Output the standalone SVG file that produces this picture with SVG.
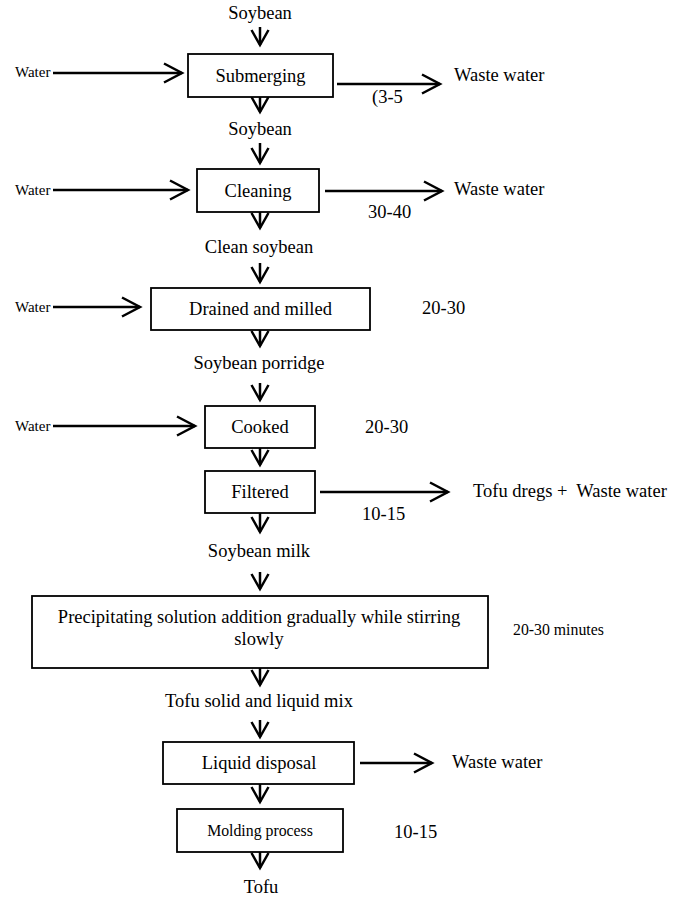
<svg xmlns="http://www.w3.org/2000/svg" width="689" height="897" viewBox="0 0 689 897">
  <style>
    text { font-family: "Liberation Serif", "Times New Roman", serif; fill: #000; }
    .t { font-size: 18.5px; }
    .c { text-anchor: middle; }
    .sm { font-size: 15px; }
    .box { fill: #fff; stroke: #000; stroke-width: 1.8; }
    .ln { fill: none; stroke: #000; stroke-width: 2.5; }
    .dn { marker-end: url(#vdown); }
    .sd { marker-end: url(#vside); }
  </style>
  <defs>
    <!-- open V arrowheads -->
    <marker id="vdown" markerUnits="userSpaceOnUse" markerWidth="30" markerHeight="30" refX="0" refY="0" orient="auto" overflow="visible">
      <path d="M-15,-8.5 L0,0 L-15,8.5" fill="none" stroke="#000" stroke-width="2.5"/>
    </marker>
    <marker id="vside" markerUnits="userSpaceOnUse" markerWidth="30" markerHeight="30" refX="0" refY="0" orient="auto" overflow="visible">
      <path d="M-18,-9.5 L0,0 L-18,9.5" fill="none" stroke="#000" stroke-width="2.5"/>
    </marker>
  </defs>
  <rect width="689" height="897" fill="#fff"/>

  <g id="connectors">
    <!-- main downward flow -->
    <line class="ln dn" x1="260" y1="27" x2="260" y2="45"/>
    <line class="ln dn" x1="260" y1="97" x2="260" y2="112"/>
    <line class="ln dn" x1="260" y1="143" x2="260" y2="163"/>
    <line class="ln dn" x1="260" y1="212" x2="260" y2="228"/>
    <line class="ln dn" x1="260" y1="263" x2="260" y2="282"/>
    <line class="ln dn" x1="260" y1="330" x2="260" y2="346"/>
    <line class="ln dn" x1="260" y1="383" x2="260" y2="400"/>
    <line class="ln dn" x1="260" y1="448" x2="260" y2="465"/>
    <line class="ln dn" x1="260" y1="513" x2="260" y2="532"/>
    <line class="ln dn" x1="260" y1="572" x2="260" y2="589"/>
    <line class="ln dn" x1="260" y1="668" x2="260" y2="685"/>
    <line class="ln dn" x1="260" y1="720" x2="260" y2="737"/>
    <line class="ln dn" x1="260" y1="784" x2="260" y2="802"/>
    <line class="ln dn" x1="260" y1="852" x2="260" y2="868"/>
    <!-- water inputs -->
    <line class="ln sd" x1="53" y1="73" x2="182" y2="73"/>
    <line class="ln sd" x1="53" y1="190" x2="188" y2="190"/>
    <line class="ln sd" x1="53" y1="307" x2="140" y2="307"/>
    <line class="ln sd" x1="53" y1="426" x2="195" y2="426"/>
    <!-- outputs -->
    <line class="ln sd" x1="337" y1="84" x2="440" y2="84"/>
    <line class="ln sd" x1="325" y1="191" x2="442" y2="191"/>
    <line class="ln sd" x1="320" y1="492" x2="448" y2="492"/>
    <line class="ln sd" x1="360" y1="763" x2="432" y2="763"/>
  </g>

  <g id="soybean-in"><text class="t c" x="260" y="19">Soybean</text></g>
  <g id="water-1"><text class="sm" x="15" y="77">Water</text></g>
  <g id="submerging">
    <rect class="box" x="188" y="54" width="145" height="43"/>
    <text class="t c" x="260.5" y="82">Submerging</text>
  </g>
  <g id="waste-1"><text class="t" x="454" y="81">Waste water</text></g>
  <g id="time-1"><text class="t" x="372" y="103">(3-5</text></g>

  <g id="soybean-soaked"><text class="t c" x="260" y="135">Soybean</text></g>
  <g id="water-2"><text class="sm" x="15" y="195">Water</text></g>
  <g id="cleaning">
    <rect class="box" x="197" y="169" width="122" height="43"/>
    <text class="t c" x="258" y="197">Cleaning</text>
  </g>
  <g id="waste-2"><text class="t" x="454" y="195">Waste water</text></g>
  <g id="time-2"><text class="t" x="368" y="218">30-40</text></g>

  <g id="clean-soybean"><text class="t c" x="259" y="253">Clean soybean</text></g>
  <g id="water-3"><text class="sm" x="15" y="312">Water</text></g>
  <g id="milling">
    <rect class="box" x="151" y="288" width="219" height="42"/>
    <text class="t c" x="260.5" y="315">Drained and milled</text>
  </g>
  <g id="time-3"><text class="t" x="422" y="314">20-30</text></g>

  <g id="porridge"><text class="t c" x="259" y="369">Soybean porridge</text></g>
  <g id="water-4"><text class="sm" x="15" y="431">Water</text></g>
  <g id="cooking">
    <rect class="box" x="205" y="406" width="110" height="42"/>
    <text class="t c" x="260" y="433">Cooked</text>
  </g>
  <g id="time-4"><text class="t" x="365" y="433">20-30</text></g>

  <g id="filtering">
    <rect class="box" x="205" y="471" width="110" height="42"/>
    <text class="t c" x="260" y="498">Filtered</text>
  </g>
  <g id="dregs"><text class="t" x="473" y="497" xml:space="preserve">Tofu dregs +  Waste water</text></g>
  <g id="time-5"><text class="t" x="362" y="520">10-15</text></g>

  <g id="soymilk"><text class="t c" x="259" y="557">Soybean milk</text></g>
  <g id="precipitation">
    <rect class="box" x="32" y="596" width="456" height="72"/>
    <text class="t c" x="259" y="623">Precipitating solution addition gradually while stirring</text>
    <text class="t c" x="259" y="645">slowly</text>
  </g>
  <g id="time-6"><text x="513" y="635" font-size="15.8">20-30 minutes</text></g>

  <g id="curd-mix"><text class="t c" x="259" y="707">Tofu solid and liquid mix</text></g>
  <g id="liquid-disposal">
    <rect class="box" x="163" y="742" width="191" height="42"/>
    <text class="t c" x="259" y="769">Liquid disposal</text>
  </g>
  <g id="waste-3"><text class="t" x="452" y="768">Waste water</text></g>

  <g id="molding">
    <rect class="box" x="177" y="809" width="166" height="43"/>
    <text class="c" x="260" y="836" font-size="15.8">Molding process</text>
  </g>
  <g id="time-7"><text class="t" x="394" y="838">10-15</text></g>

  <g id="tofu"><text class="t c" x="261" y="893">Tofu</text></g>
</svg>
